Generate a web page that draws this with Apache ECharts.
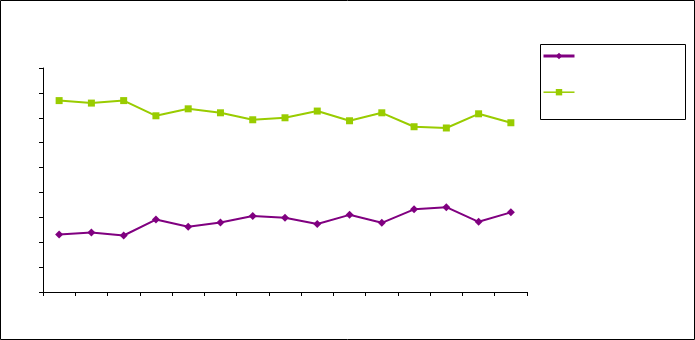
<!DOCTYPE html>
<html>
<head>
<meta charset="utf-8">
<script src="https://cdn.jsdelivr.net/npm/echarts@6/dist/echarts.min.js"></script>
<style>html,body{margin:0;padding:0;background:#fff}#c{width:695px;height:340px}</style>
</head>
<body>
<div id="c"></div>
<script>
const categories = ['1','2','3','4','5','6','7','8','9','10','11','12','13','14','15'];
const seriesNames = ['Series 1','Series 2'];
const purpleValues = [23.1,23.9,22.7,29.1,26.2,27.9,30.5,29.8,27.3,31.0,27.8,33.2,34.1,28.2,32.0];
const greenValues = [76.9,75.9,76.9,70.8,73.6,72.0,69.2,70.0,72.7,68.8,72.0,66.4,65.9,71.6,68.0];
const yMin = 0, yMax = 90, yInterval = 10;

const chart = echarts.init(document.getElementById('c'), null, {renderer:'canvas'});
chart.setOption({
  animation:false,
  backgroundColor:'#fff',
  graphic:[
    {type:'rect', shape:{x:0.5,y:0.5,width:694,height:339}, style:{fill:'none',stroke:'#000',lineWidth:1}, z:-1},
    {type:'rect', shape:{x:540.5,y:44.5,width:145,height:75}, style:{fill:'#fff',stroke:'#000',lineWidth:1}, z:-1}
  ],
  grid:{left:43, right:168, top:68, bottom:48, containLabel:false},
  legend:{
    orient:'vertical', left:537, top:47, itemWidth:31, itemHeight:8, itemGap:29,
    formatter:function(){return '';},
    data:[
      {name:seriesNames[0], lineStyle:{width:3}},
      {name:seriesNames[1], lineStyle:{width:1.5}}
    ]
  },
  xAxis:{
    type:'category', data:categories, boundaryGap:true,
    axisLine:{lineStyle:{color:'#000',width:1}},
    axisTick:{show:true, length:4, interval:0, lineStyle:{color:'#000'}},
    axisLabel:{show:false}, splitLine:{show:false}
  },
  yAxis:{
    type:'value', min:yMin, max:yMax, interval:yInterval,
    axisLine:{show:true, lineStyle:{color:'#000',width:1}},
    axisTick:{show:true, length:4, lineStyle:{color:'#000'}},
    axisLabel:{show:false}, splitLine:{show:false}
  },
  series:[
    {name:seriesNames[0], type:'line', data:purpleValues, symbol:'diamond', symbolSize:8,
     itemStyle:{color:'#800080'}, lineStyle:{color:'#800080', width:2}},
    {name:seriesNames[1], type:'line', data:greenValues, symbol:'rect', symbolSize:7,
     itemStyle:{color:'#99CC00'}, lineStyle:{color:'#99CC00', width:2}}
  ]
});
</script>
</body>
</html>
